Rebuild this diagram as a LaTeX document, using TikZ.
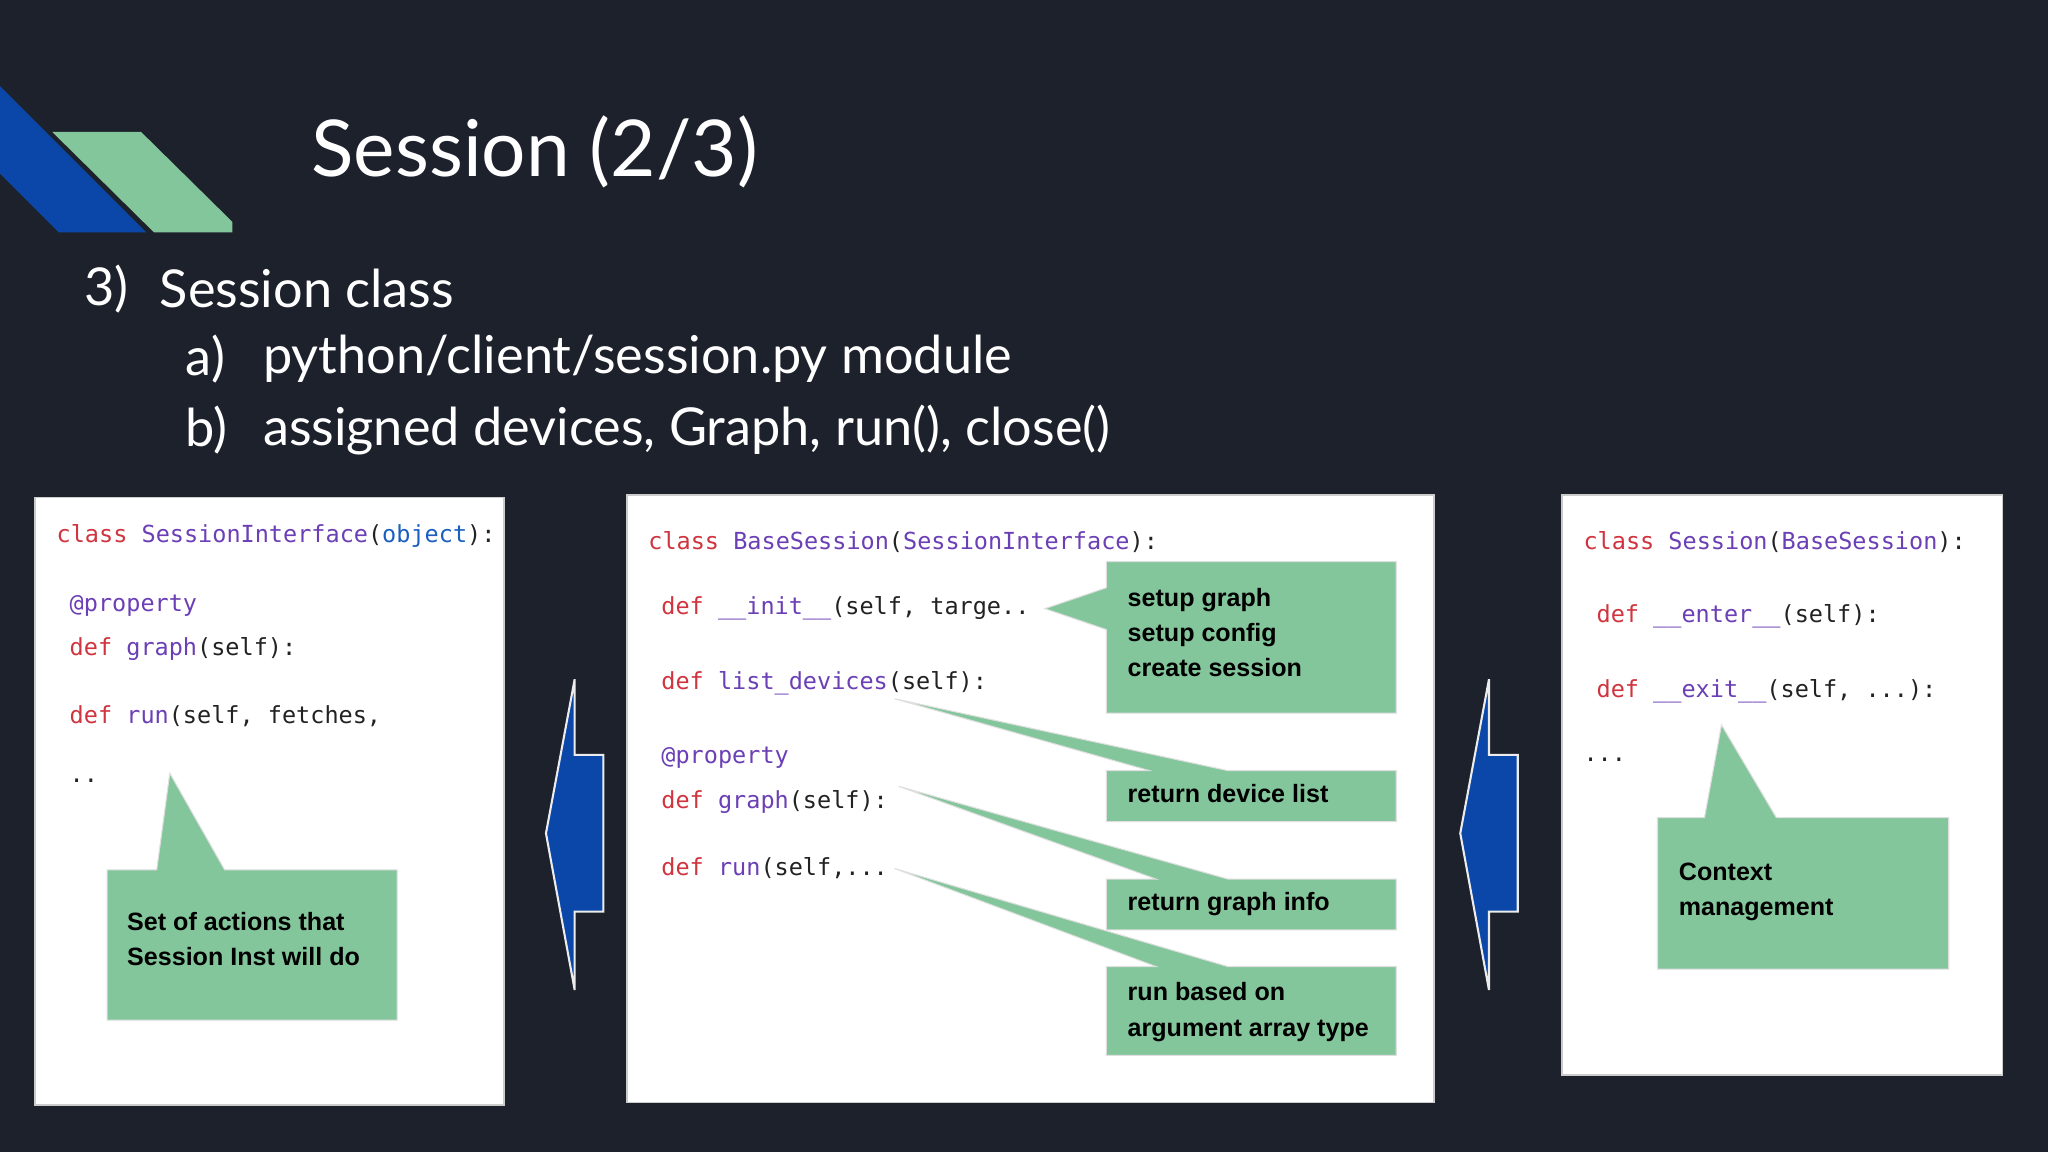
\documentclass[tikz,border=0pt]{standalone}
\usepackage{fontspec}
\setmainfont{Lato}
\newfontfamily\codef{DejaVu Sans Mono}
\newfontfamily\boldf{Liberation Sans}
\definecolor{bg}{HTML}{1D212C}
\definecolor{gr}{HTML}{84C69B}
\definecolor{bl}{HTML}{0A47A9}
\definecolor{kw}{HTML}{D0343F}
\definecolor{nm}{HTML}{6B3FB5}
\definecolor{ob}{HTML}{1A5FC0}
\definecolor{tx}{HTML}{222222}
\begin{document}
\begin{tikzpicture}[x=0.5pt,y=-0.5pt,
 panel/.style={fill=white,draw=gray!40,line width=0.6pt},
 code/.style={anchor=west,inner sep=0,font=\codef\fontsize{9}{11}\selectfont,text=tx},
 call/.style={fill=gr,draw=gray!25,line width=0.4pt},
 ctext/.style={anchor=north west,inner sep=0,align=left,font=\boldf\bfseries\fontsize{9.6}{13.5}\selectfont,text=black},
 barrow/.style={fill=bl,draw=white!85!gray,line width=0.8pt}]
\useasboundingbox (0,0) rectangle (1568,882);
\fill[bg] (0,0) rectangle (1568,882);
% corner decoration
\fill[bl] (0,66) -- (112,178) -- (45,178) -- (0,133) -- cycle;
\fill[gr] (40,101) -- (108,101) -- (178,170) -- (178,178) -- (118,178) -- cycle;
% title and bullets
\node[anchor=west,inner sep=0,text=white,font=\fontsize{30}{34}\selectfont] (title) at (238,116) {Session (2/3)};
\node[anchor=west,inner sep=0,text=white,font=\fontsize{20}{24}\selectfont] (b3) at (64,221) {3)};
\node[anchor=west,inner sep=0,text=white,font=\fontsize{20}{24}\selectfont] (b3t) at (122,221) {Session class};
\node[anchor=west,inner sep=0,text=white,font=\fontsize{20}{24}\selectfont] (ba) at (142,275) {a)};
\node[anchor=west,inner sep=0,text=white,font=\fontsize{20}{24}\selectfont] (bat) at (201,275) {python/client/session.py module};
\node[anchor=west,inner sep=0,text=white,font=\fontsize{20}{24}\selectfont] (bb) at (142,329) {b)};
\node[anchor=west,inner sep=0,text=white,font=\fontsize{20}{24}\selectfont] (bbt) at (201,329) {assigned devices, Graph, run(), close()};
% panels
\draw[panel] (27,381) rectangle (386,846);
\draw[panel] (480,379) rectangle (1098,844);
\draw[panel] (1196,379) rectangle (1533,823);
% left code
\node[code] (l1) at (43,410) {\textcolor{kw}{class} \textcolor{nm}{SessionInterface}(\textcolor{ob}{object}):};
\node[code] (l2) at (53,464) {\textcolor{nm}{@property}};
\node[code] (l3) at (53,497) {\textcolor{kw}{def} \textcolor{nm}{graph}(self):};
\node[code] (l4) at (53,548) {\textcolor{kw}{def} \textcolor{nm}{run}(self, fetches,};
\node[code] (l5) at (53,598) {..};
\draw[call] (120,666) -- (130,592) -- (172,666) -- (304,666) -- (304,781) -- (82,781) -- (82,666) -- cycle;
\node[ctext] (lc) at (97,698) {Set of actions that\\Session Inst will do};
% middle code
\node[code] (m1) at (496,415) {\textcolor{kw}{class} \textcolor{nm}{BaseSession}(\textcolor{nm}{SessionInterface}):};
\node[code] (m2) at (506,466) {\textcolor{kw}{def} \textcolor{nm}{\_\_init\_\_}(self, targe..};
\node[code] (m3) at (506,523) {\textcolor{kw}{def} \textcolor{nm}{list\_devices}(self):};
\node[code] (m4) at (506,580) {\textcolor{nm}{@property}};
\node[code] (m5) at (506,614) {\textcolor{kw}{def} \textcolor{nm}{graph}(self):};
\node[code] (m6) at (506,665) {\textcolor{kw}{def} \textcolor{nm}{run}(self,...};
\draw[call] (847,430) -- (1069,430) -- (1069,546) -- (847,546) -- (847,482) -- (800,466) -- (847,450) -- cycle;
\node[ctext] (c1) at (863,450) {setup graph\\setup config\\create session};
\draw[call] (685,535) -- (940,590) -- (1069,590) -- (1069,629) -- (847,629) -- (847,590) -- (880,590) -- cycle;
\node[ctext] (c2) at (863,600) {return device list};
\draw[call] (688,602) -- (940,673) -- (1069,673) -- (1069,712) -- (847,712) -- (847,673) -- (885,673) -- cycle;
\node[ctext] (c3) at (863,683) {return graph info};
\draw[call] (685,665) -- (940,740) -- (1069,740) -- (1069,808) -- (847,808) -- (847,740) -- (885,740) -- cycle;
\node[ctext] (c4) at (863,752) {run based on\\argument array type};
% right code
\node[code] (r1) at (1212,415) {\textcolor{kw}{class} \textcolor{nm}{Session}(\textcolor{nm}{BaseSession}):};
\node[code] (r2) at (1222,472) {\textcolor{kw}{def} \textcolor{nm}{\_\_enter\_\_}(self):};
\node[code] (r3) at (1222,529) {\textcolor{kw}{def} \textcolor{nm}{\_\_exit\_\_}(self, ...):};
\node[code] (r4) at (1212,582) {...};
\draw[call] (1305,626) -- (1318,555) -- (1360,626) -- (1492,626) -- (1492,742) -- (1269,742) -- (1269,626) -- cycle;
\node[ctext] (rc) at (1285,660) {Context\\management};
% blue arrows
\draw[barrow] (440,520) -- (440,578) -- (462,578) -- (462,698) -- (440,698) -- (440,758) -- (418,638) -- cycle;
\draw[barrow] (1140,520) -- (1140,578) -- (1162,578) -- (1162,698) -- (1140,698) -- (1140,758) -- (1118,638) -- cycle;
\end{tikzpicture}
\end{document}
